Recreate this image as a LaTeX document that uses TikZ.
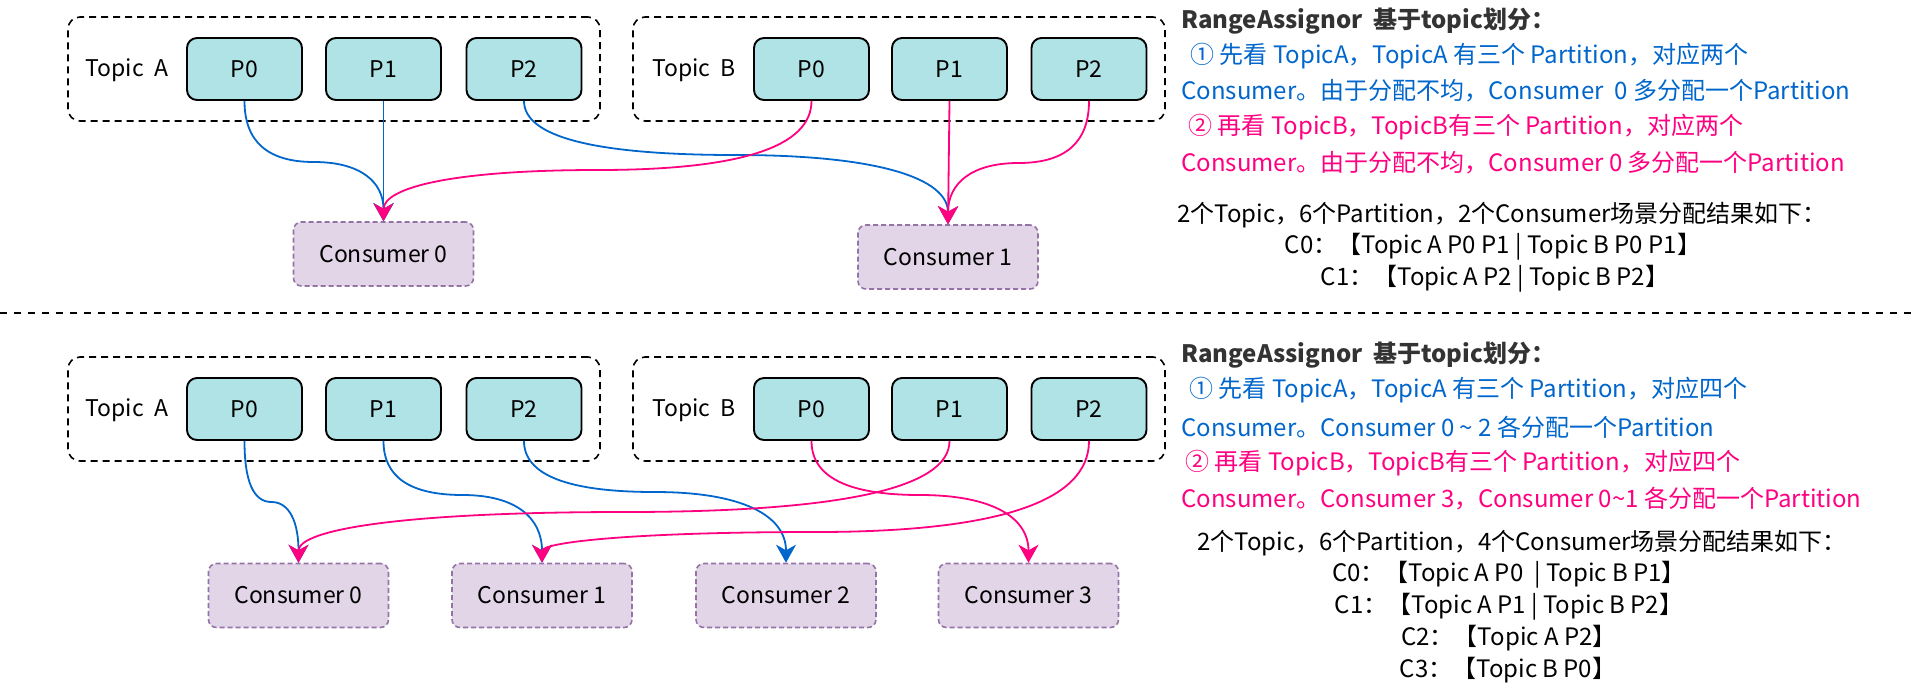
\documentclass[tikz,border=0pt]{standalone}
\usepackage{fontspec}
\setmainfont{Noto Sans CJK SC}
\usetikzlibrary{arrows.meta,calc}
\definecolor{eblue}{HTML}{0066CC}
\definecolor{epink}{HTML}{FF0080}
\definecolor{pfill}{HTML}{B0E3E6}
\definecolor{cfill}{HTML}{E1D5E7}
\definecolor{cdraw}{HTML}{9673A6}
\definecolor{tgray}{HTML}{333333}
\newcommand\qedge[4]{%
  \path (#2.south |- 0,#4) coordinate (qa) (#3.north |- 0,#4) coordinate (qb) ($(qa)!0.5!(qb)$) coordinate (qm);
  \draw[#1] (#2.south) .. controls ($(#2.south)!0.6667!(qa)$) and ($(qm)!0.6667!(qa)$) .. (qm)
     .. controls ($(qm)!0.6667!(qb)$) and ($(#3.north)!0.6667!(qb)$) .. (#3.north);}
\begin{document}
\begin{tikzpicture}[x=0.5pt,y=-0.5pt,
  topicbox/.style={draw=black, dash pattern=on 3.5pt off 2.5pt, line width=0.8pt, rounded corners=6pt,
    minimum width=266pt, minimum height=52pt, inner sep=0pt},
  pbox/.style={draw=black, fill=pfill, line width=0.95pt, rounded corners=5pt,
    minimum width=57.5pt, minimum height=31pt, inner sep=0pt, font=\fontsize{11.5}{13}\selectfont},
  cbox/.style={draw=cdraw, fill=cfill, dash pattern=on 2.5pt off 1.5pt, line width=0.8pt, rounded corners=4pt,
    minimum width=90pt, minimum height=32pt, inner sep=0pt, font=\fontsize{11.5}{13}\selectfont},
  tlabel/.style={inner sep=0pt, font=\fontsize{11.5}{13}\selectfont},
  txt/.style={anchor=west, inner sep=0pt, font=\fontsize{12}{14}\selectfont},
  ctxt/.style={anchor=center, inner sep=0pt, font=\fontsize{12}{14}\selectfont},
  bl/.style={draw=eblue, line width=0.9pt, -{Stealth[length=9pt,width=10pt,inset=2.8pt]}},
  pk/.style={draw=epink, line width=0.9pt, -{Stealth[length=9pt,width=10pt,inset=2.8pt]}}]
\useasboundingbox (0,0) rectangle (1932,698);

% ===== top part =====
\node[topicbox] (tA1) at (334,69) {};
\node[tlabel] (lA1) at (127,70) {Topic\ \ A};
\node[pbox] (a1p0) at (244.5,69) {P0};
\node[pbox] (a1p1) at (383.5,69) {P1};
\node[pbox] (a1p2) at (524,69) {P2};
\node[topicbox] (tB1) at (899,69) {};
\node[tlabel] (lB1) at (694,70) {Topic\ \ B};
\node[pbox] (b1p0) at (811.5,69) {P0};
\node[pbox] (b1p1) at (949.5,69) {P1};
\node[pbox] (b1p2) at (1089,69) {P2};
\node[cbox] (c10) at (383.5,254) {Consumer 0};
\node[cbox] (c11) at (948,257) {Consumer 1};

\qedge{bl}{a1p0}{c10}{162}
\draw[bl] (a1p1.south) -- (c10.north);
\qedge{bl}{a1p2}{c11}{155}
\qedge{pk}{b1p0}{c10}{170}
\draw[pk] (b1p1.south) -- (c11.north);
\qedge{pk}{b1p2}{c11}{163}

\node[txt, text=tgray] (r1l1) at (1181,21) {\bfseries RangeAssignor\ \ 基于topic划分：};
\node[txt, text=eblue] (r1l2) at (1190,56) {① 先看 TopicA，TopicA 有三个 Partition，对应两个};
\node[txt, text=eblue] (r1l3) at (1181,91) {Consumer。由于分配不均，Consumer\ \ 0 多分配一个Partition};
\node[txt, text=epink] (r1l4) at (1188,127) {② 再看 TopicB，TopicB有三个 Partition，对应两个};
\node[txt, text=epink] (r1l5) at (1181,163) {Consumer。由于分配不均，Consumer 0 多分配一个Partition};
\node[txt] (r1l6) at (1177,215) {2个Topic，6个Partition，2个Consumer场景分配结果如下：};
\node[ctxt] (r1l7) at (1493,247) {C0：【Topic A P0 P1 | Topic B P0 P1】};
\node[ctxt] (r1l8) at (1495,279) {C1：【Topic A P2 | Topic B P2】};

% ===== separator =====
\coordinate (sepL) at (0,313);
\coordinate (sepR) at (1918,313);
\draw[dash pattern=on 3.5pt off 3.5pt, line width=0.85pt] (sepL) -- (sepR);

% ===== bottom part =====
\node[topicbox] (tA2) at (334,409) {};
\node[tlabel] (lA2) at (127,410) {Topic\ \ A};
\node[pbox] (a2p0) at (244.5,409) {P0};
\node[pbox] (a2p1) at (383.5,409) {P1};
\node[pbox] (a2p2) at (524,409) {P2};
\node[topicbox] (tB2) at (899,409) {};
\node[tlabel] (lB2) at (694,410) {Topic\ \ B};
\node[pbox] (b2p0) at (811.5,409) {P0};
\node[pbox] (b2p1) at (949.5,409) {P1};
\node[pbox] (b2p2) at (1089,409) {P2};
\node[cbox] (c20) at (298.5,595.5) {Consumer 0};
\node[cbox] (c21) at (542,595.5) {Consumer 1};
\node[cbox] (c22) at (786,595.5) {Consumer 2};
\node[cbox] (c23) at (1028.5,595.5) {Consumer 3};

\qedge{bl}{a2p0}{c20}{502}
\qedge{bl}{a2p1}{c21}{495}
\qedge{bl}{a2p2}{c22}{492}
\qedge{pk}{b2p0}{c23}{495}
\qedge{pk}{b2p1}{c20}{512}
\qedge{pk}{b2p2}{c21}{532}

\node[txt, text=tgray] (r2l1) at (1181,355) {\bfseries RangeAssignor\ \ 基于topic划分：};
\node[txt, text=eblue] (r2l2) at (1189,390) {① 先看 TopicA，TopicA 有三个 Partition，对应四个};
\node[txt, text=eblue] (r2l3) at (1181,427) {Consumer。Consumer 0 \textasciitilde\ 2 各分配一个Partition};
\node[txt, text=epink] (r2l4) at (1185,463) {② 再看 TopicB，TopicB有三个 Partition，对应四个};
\node[txt, text=epink] (r2l5) at (1181,499) {Consumer。Consumer 3，Consumer 0\textasciitilde 1 各分配一个Partition};
\node[txt] (r2l6) at (1197,543) {2个Topic，6个Partition，4个Consumer场景分配结果如下：};
\node[ctxt] (r2l7) at (1509,575) {C0：【Topic A P0\ \ | Topic B P1】};
\node[ctxt] (r2l8) at (1509,607) {C1：【Topic A P1 | Topic B P2】};
\node[ctxt] (r2l9) at (1509,638) {C2：【Topic A P2】};
\node[ctxt] (r2l10) at (1508,670) {C3：【Topic B P0】};
\end{tikzpicture}
\end{document}
